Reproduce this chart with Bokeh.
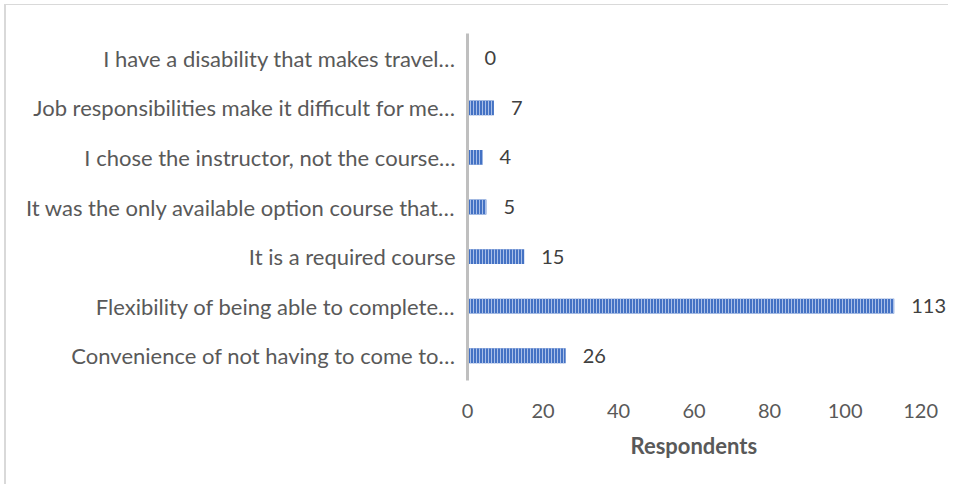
from bokeh.plotting import figure
from bokeh.models import FactorRange, Range1d, FixedTicker, ColumnDataSource, LabelSet, Title
from bokeh.core.properties import value
from bokeh.embed import file_html
from bokeh.resources import INLINE

# Data (bottom to top)
categories = [
    "Convenience of not having to come to…",
    "Flexibility of being able to complete…",
    "It is a required course",
    "It was the only available option course that…",
    "I chose the instructor, not the course…",
    "Job responsibilities make it difficult for me…",
    "I have a disability that makes travel…",
]
respondents = [26, 113, 15, 5, 4, 7, 0]
x_ticks = [0, 20, 40, 60, 80, 100, 120]
x_title = "Respondents"

FONT = "Lato"
TXT = "#595959"

src = ColumnDataSource(dict(cat=categories, val=respondents, lab=[str(v) for v in respondents]))

p = figure(
    width=944, height=480,
    y_range=FactorRange(*categories),
    x_range=Range1d(0, 127.9),
    output_backend="svg", toolbar_location=None,
    min_border_left=461, min_border_right=0, min_border_top=28, min_border_bottom=105,
)
p.styles = {"margin-left": "4px", "margin-top": "4px",
            "border-left": "2px solid #D9D9D9", "border-top": "1px solid #D9D9D9"}

p.hbar(y="cat", left=0, right="val", height=0.30, source=src,
       fill_color="#4472C4", line_color=None,
       hatch_pattern="vertical_line", hatch_color="#A9BFE8",
       hatch_scale=3, hatch_weight=1)

labels = LabelSet(x="val", y="cat", text="lab", source=src, x_offset=17,
                  text_baseline="middle", text_font=value(FONT), text_font_size="20px",
                  text_color="#404040")
p.add_layout(labels)

p.outline_line_color = None
p.xgrid.grid_line_color = None
p.ygrid.grid_line_color = None

xa = p.xaxis[0]
xa.ticker = FixedTicker(ticks=x_ticks)
xa.axis_line_color = None
xa.major_tick_line_color = None
xa.minor_tick_line_color = None
xa.major_label_text_font = FONT
xa.major_label_text_font_size = "20px"
xa.major_label_text_color = TXT
xa.major_label_standoff = 17

# x-axis title, centred under the 0-120 scale (not the wider frame)
p.add_layout(Title(text=x_title, align="left", offset=163, standoff=19,
                   text_font=FONT, text_font_size="22px", text_font_style="bold",
                   text_color=TXT), "below")

ya = p.yaxis[0]
ya.axis_line_color = "#BFBFBF"
ya.axis_line_width = 3
ya.major_tick_line_color = None
ya.minor_tick_line_color = None
ya.major_label_text_font = FONT
ya.major_label_text_font_size = "22px"
ya.major_label_text_color = TXT
ya.major_label_standoff = 6

open("out.html", "w").write(file_html(p, INLINE))
